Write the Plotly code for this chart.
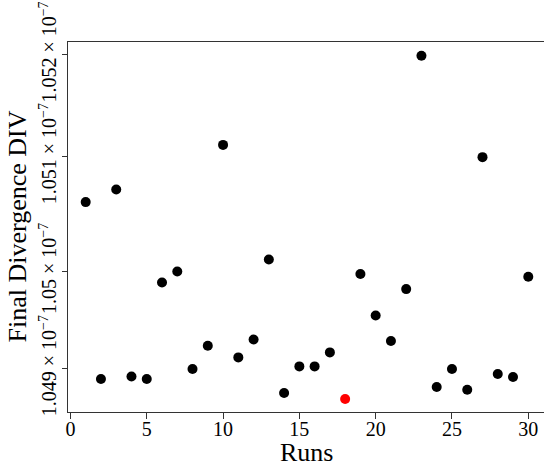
import plotly.graph_objects as go

runs = [1, 2, 3, 4, 5, 6, 7, 8, 9, 10, 11, 12, 13, 14, 15,
        16, 17, 18, 19, 20, 21, 22, 23, 24, 25, 26, 27, 28, 29, 30]
final_div = [1.050593e-7, 1.048902e-7, 1.050713e-7, 1.048926e-7, 1.048902e-7,
             1.049825e-7, 1.049930e-7, 1.048997e-7, 1.049220e-7, 1.051140e-7,
             1.049108e-7, 1.049280e-7, 1.050044e-7, 1.048768e-7, 1.049022e-7,
             1.049022e-7, 1.049156e-7, 1.048711e-7, 1.049905e-7, 1.049509e-7,
             1.049265e-7, 1.049761e-7, 1.051993e-7, 1.048825e-7, 1.048997e-7,
             1.048799e-7, 1.051023e-7, 1.048949e-7, 1.048921e-7, 1.049879e-7]

y_tick_vals = [1.049e-7, 1.04993e-7, 1.051028e-7, 1.052e-7]
y_tick_text = ["1.049 × 10<sup>−7</sup>", "1.05 × 10<sup>−7</sup>",
               "1.051 × 10<sup>−7</sup>", "1.052 × 10<sup>−7</sup>"]
x_tick_vals = [0, 5, 10, 15, 20, 25, 30]

best = final_div.index(min(final_div))
colors = ["#FF0000" if i == best else "#000000" for i in range(len(final_div))]

FONT = "Liberation Serif"
AX = "#333333"

fig = go.Figure()
fig.add_trace(go.Scatter(
    x=runs, y=final_div, mode="markers",
    marker=dict(size=10, color=colors, line=dict(width=0)),
    showlegend=False,
))

fig.update_layout(
    width=544, height=467,
    margin=dict(l=68, r=0, t=42, b=55),
    paper_bgcolor="white", plot_bgcolor="white",
    font=dict(family=FONT, color="black", size=20),
    xaxis=dict(
        range=[-0.16, 31.03], tickvals=x_tick_vals,
        showgrid=False, zeroline=False, automargin=False,
        showline=True, linecolor=AX, linewidth=1, mirror=True,
        ticks="outside", ticklen=6, tickcolor=AX,
        ticklabelstandoff=-7,
        tickfont=dict(family=FONT, size=20),
    ),
    yaxis=dict(
        range=[1.048586e-7, 1.052124e-7],
        tickvals=y_tick_vals, ticktext=y_tick_text, tickangle=-90,
        showgrid=False, zeroline=False, automargin=False,
        showline=True, linecolor=AX, linewidth=1, mirror=False,
        ticks="outside", ticklen=5, tickcolor=AX,
        ticklabelstandoff=-2,
        tickfont=dict(family=FONT, size=20),
    ),
    annotations=[
        dict(text="Runs", xref="paper", yref="paper", x=0.5, y=0,
             xanchor="center", yanchor="top", yshift=-24, showarrow=False,
             font=dict(family=FONT, size=26)),
        dict(text="Final Divergence DIV", xref="paper", yref="paper", x=0, y=0.5,
             xanchor="right", yanchor="middle", xshift=-35, textangle=-90,
             showarrow=False, font=dict(family=FONT, size=26)),
    ],
)

fig.write_html(
    "out.html",
    config={"displayModeBar": False},
    post_script="document.body.style.margin='0';document.body.style.overflow='hidden';",
)
